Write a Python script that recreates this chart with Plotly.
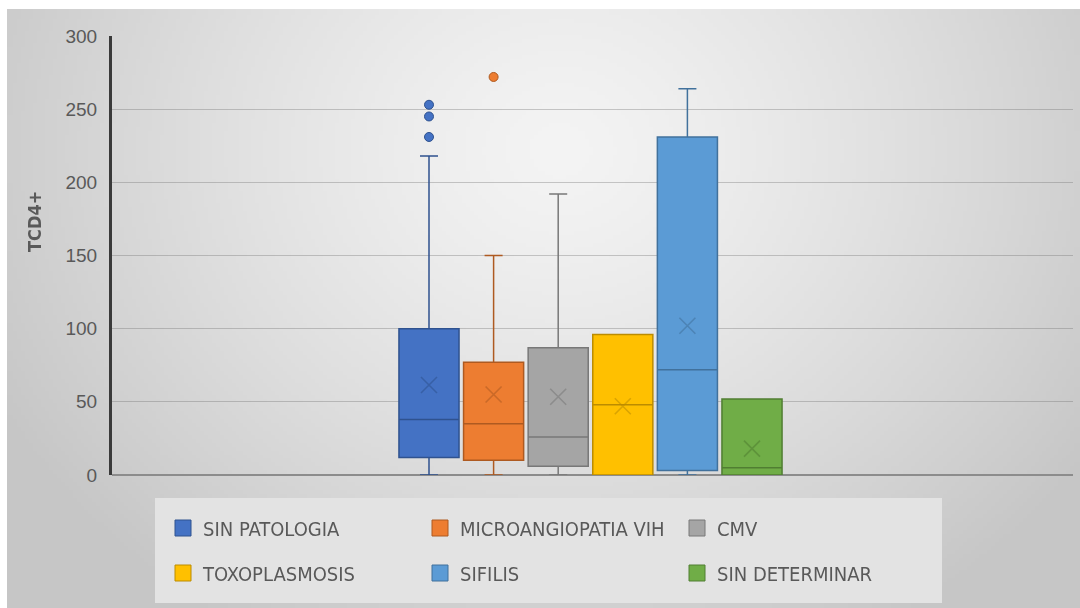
import base64
import struct
import zlib

import numpy as np
import plotly.graph_objects as go

# ---- data: TCD4+ counts by diagnosis ----
categories = ["SIN PATOLOGIA", "MICROANGIOPATIA VIH", "CMV",
              "TOXOPLASMOSIS", "SIFILIS", "SIN DETERMINAR"]
lower_fence = [0, 0, 0, 0, 0, 0]
q1_values = [12, 10, 6, 0, 3, 0]
median_values = [38, 35, 26, 48, 72, 5]
q3_values = [100, 77, 87, 96, 231, 52]
upper_fence = [218, 150, 192, 96, 264, 52]
mean_values = [61.5, 55, 53.5, 47, 102, 18]
outliers = {
    "SIN PATOLOGIA": [231, 245, 253],
    "MICROANGIOPATIA VIH": [272],
}
y_ticks = [0, 50, 100, 150, 200, 250, 300]

# ---- styling ----
fill_colors = ["#4472C4", "#ED7D31", "#A5A5A5", "#FFC000", "#5B9BD5", "#70AD47"]
edge_colors = ["#2F528F", "#AE5A21", "#787878", "#BC8C00", "#41719C", "#507E32"]
TEXT = "#595959"
W, H = 1080, 608
ML, MR, MT, MB = 112, 7, 36, 133
PW, PH = W - ML - MR, H - MT - MB


def px_x(v):
    return (v - ML) / PW


def px_y(v):
    return (H - MB - v) / PH


def gray_png(arr):
    """Encode a 2-D uint8 array as a grayscale PNG data URI."""
    h, w = arr.shape
    raw = b"".join(b"\x00" + arr[r].tobytes() for r in range(h))

    def chunk(tag, data):
        c = struct.pack(">I", len(data)) + tag + data
        return c + struct.pack(">I", zlib.crc32(tag + data) & 0xFFFFFFFF)

    png = (b"\x89PNG\r\n\x1a\n"
           + chunk(b"IHDR", struct.pack(">IIBBBBB", w, h, 8, 0, 0, 0, 0))
           + chunk(b"IDAT", zlib.compress(raw, 9))
           + chunk(b"IEND", b""))
    return "data:image/png;base64," + base64.b64encode(png).decode()


# radial grey background behind the chart area
bx0, by0, bx1, by1 = 7, 9, W, H
gw, gh = 270, 150
gy, gx = np.mgrid[0:gh, 0:gw]
sx = (gx + 0.5) / gw * (bx1 - bx0) + bx0
sy = (gy + 0.5) / gh * (by1 - by0) + by0
dist = np.sqrt(((sx - 560) / 640) ** 2 + ((sy - 150) / 560) ** 2)
shade = 244 - (244 - 198) * np.clip(dist, 0, 1) ** 1.3
bg_uri = gray_png(shade.astype(np.uint8))

fig = go.Figure()

for i, cat in enumerate(categories):
    fig.add_trace(go.Box(
        x=[cat], q1=[q1_values[i]], median=[median_values[i]], q3=[q3_values[i]],
        lowerfence=[lower_fence[i]], upperfence=[upper_fence[i]],
        width=0.93, whiskerwidth=0.3, boxpoints=False,
        fillcolor=fill_colors[i], line=dict(color=edge_colors[i], width=1.5),
        showlegend=False, hoverinfo="skip",
    ))

# mean markers
fig.add_trace(go.Scatter(
    x=categories, y=mean_values, mode="markers", showlegend=False,
    hoverinfo="skip", opacity=0.55,
    marker=dict(symbol="x-thin", size=16,
                line=dict(width=1.6, color=edge_colors)),
))

# outlier points
ox, oy, oc, oe = [], [], [], []
for i, cat in enumerate(categories):
    for v in outliers.get(cat, []):
        ox.append(cat)
        oy.append(v)
        oc.append(fill_colors[i])
        oe.append(edge_colors[i])
fig.add_trace(go.Scatter(
    x=ox, y=oy, mode="markers", showlegend=False, hoverinfo="skip",
    marker=dict(symbol="circle", size=9, color=oc, line=dict(width=1, color=oe)),
))

# legend entries (two rows of three)
for i, cat in enumerate(categories):
    fig.add_trace(go.Scatter(
        x=[None], y=[None], mode="markers", name=cat,
        legend="legend" if i < 3 else "legend2",
        marker=dict(symbol="square", size=16, color=fill_colors[i],
                    line=dict(color=edge_colors[i], width=1)),
    ))

legend_font = dict(family="Liberation Sans Narrow, DejaVu Sans Condensed, Arial Narrow, sans-serif",
                   size=20, color=TEXT)
legend_common = dict(orientation="h", xanchor="left", yanchor="middle",
                     x=px_x(163), bgcolor="rgba(0,0,0,0)", borderwidth=0,
                     font=legend_font, entrywidth=212, entrywidthmode="pixels",
                     itemclick=False, itemdoubleclick=False)

fig.update_layout(
    width=W, height=H,
    margin=dict(l=ML, r=MR, t=MT, b=MB, autoexpand=False),
    paper_bgcolor="white",
    plot_bgcolor="rgba(0,0,0,0)",
    showlegend=True,
    legend=dict(y=px_y(528), **legend_common),
    legend2=dict(y=px_y(573), **legend_common),
    xaxis=dict(type="category", categoryorder="array", categoryarray=categories,
               range=[-4.907, 9.969], showticklabels=False, showgrid=False,
               zeroline=False, showline=False, ticks=""),
    yaxis=dict(range=[0, 300], tickvals=y_ticks, showgrid=True,
               gridcolor="rgba(110,110,110,0.35)", gridwidth=1,
               zeroline=True, zerolinecolor="#8c8c8c", zerolinewidth=1.5,
               showline=True, linecolor="#3a3a3a", linewidth=3,
               ticks="", ticklabelstandoff=8,
               tickfont=dict(family="Liberation Sans, Arial, sans-serif",
                             size=19, color=TEXT)),
    images=[dict(source=bg_uri, xref="paper", yref="paper",
                 x=px_x(bx0), y=px_y(by0), sizex=(bx1 - bx0) / PW,
                 sizey=(by1 - by0) / PH, xanchor="left", yanchor="top",
                 sizing="stretch", layer="below")],
    shapes=[dict(type="rect", xref="paper", yref="paper", layer="below",
                 x0=px_x(155), x1=px_x(942), y0=px_y(603), y1=px_y(498),
                 fillcolor="#e3e3e3", line=dict(width=0))],
    annotations=[dict(text="<b>TCD4+</b>", textangle=-90, xref="paper", yref="paper",
                      x=px_x(34), y=px_y(222), xanchor="center", yanchor="middle",
                      showarrow=False,
                      font=dict(family="Liberation Sans Narrow, DejaVu Sans Condensed, Arial Narrow, sans-serif",
                                size=18, color=TEXT))],
)

fig.write_html("out.html")
